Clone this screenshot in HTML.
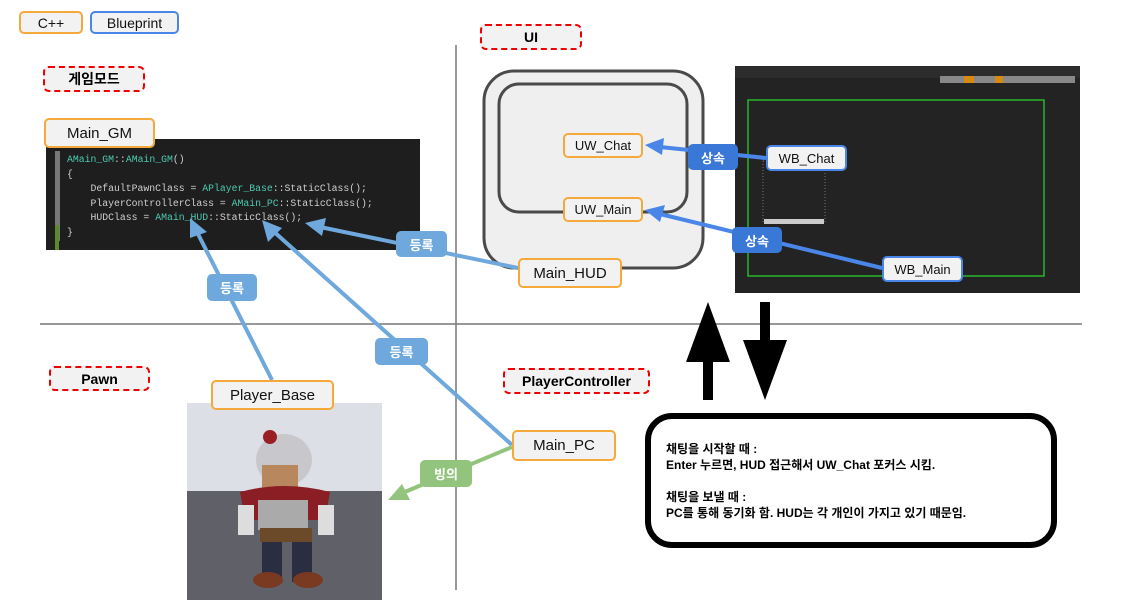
<!DOCTYPE html>
<html><head><meta charset="utf-8"><style>
html,body{margin:0;padding:0;background:#fff;}
body{width:1132px;height:613px;overflow:hidden;position:relative;font-family:"Liberation Sans","Noto Sans CJK KR",sans-serif;}
.b{position:absolute;box-sizing:border-box;display:flex;align-items:center;justify-content:center;white-space:nowrap;}
.cpp{background:#f2f2f2;border:2px solid #f6a93b;border-radius:5px;color:#111;}
.bp{background:#f2f2f2;border:2px solid #4a86e8;border-radius:5px;color:#111;}
.sec{background:#f2f2f2;border:2.5px dashed #e00;border-radius:6px;font-weight:bold;font-size:14px;color:#000;}
.lb{color:#fff;font-weight:bold;font-size:13px;border-radius:5px;}
.code{position:absolute;font-family:"Liberation Mono",monospace;font-size:9.8px;color:#cfcfcf;white-space:pre;}
.t{color:#4ec9b0}
</style></head><body>
<svg width="1132" height="613" style="position:absolute;left:0;top:0">
<line x1="456" y1="45" x2="456" y2="590" stroke="#777" stroke-width="1.5"/>
<line x1="40" y1="324" x2="1082" y2="324" stroke="#777" stroke-width="1.5"/>
<rect x="46" y="139" width="374" height="111" fill="#1e1e1e"/>
<rect x="55" y="151" width="5" height="90" fill="#777"/>
<rect x="55" y="225" width="4" height="25" fill="#5a8a2a"/>
<rect x="484" y="71" width="219" height="197" rx="30" fill="#efefef" stroke="#4a4a4a" stroke-width="3"/>
<rect x="499" y="84" width="188" height="128" rx="20" fill="#efefef" stroke="#4a4a4a" stroke-width="3"/>
<rect x="735" y="66" width="345" height="227" fill="#232323"/>
<rect x="735" y="66" width="345" height="12" fill="#2c2c2c"/>
<rect x="748" y="100" width="296" height="176" fill="none" stroke="#2bb52b" stroke-width="1.5"/>
<rect x="763" y="160" width="62" height="62" fill="none" stroke="#777" stroke-dasharray="1,2"/>
<rect x="764" y="219" width="60" height="5" fill="#ccc"/>
<rect x="940" y="76" width="135" height="7" fill="#888"/>
<rect x="964" y="76" width="10" height="7" fill="#d88a10"/>
<rect x="995" y="76" width="8" height="7" fill="#d88a10"/>
<rect x="187" y="403" width="195" height="197" fill="#5f6068"/>
<rect x="187" y="403" width="195" height="88" fill="#dcdfe6"/>
<ellipse cx="284" cy="460" rx="28" ry="26" fill="#c8c8cc"/>
<circle cx="270" cy="437" r="7" fill="#9a1f24"/>
<rect x="262" y="465" width="36" height="30" fill="#b8875e"/>
<path d="M240 492 Q284 480 330 492 L325 520 L245 520Z" fill="#8a1e24"/>
<rect x="258" y="500" width="50" height="30" fill="#aaa"/>
<rect x="238" y="505" width="16" height="30" fill="#ddd"/>
<rect x="318" y="505" width="16" height="30" fill="#ddd"/>
<rect x="260" y="528" width="52" height="14" fill="#6b4a2a"/>
<rect x="262" y="542" width="20" height="40" fill="#2a2e40"/>
<rect x="292" y="542" width="20" height="40" fill="#2a2e40"/>
<ellipse cx="268" cy="580" rx="15" ry="8" fill="#7a3a22"/>
<ellipse cx="308" cy="580" rx="15" ry="8" fill="#7a3a22"/>
<g stroke="#6fa8dc" stroke-width="4" fill="#6fa8dc">
<line x1="272" y1="380" x2="197" y2="232"/>
<polygon points="190,218 207,232 190,238" stroke="none"/>
<line x1="512" y1="445" x2="272" y2="230"/>
<polygon points="262,220 282,228 268,242" stroke="none"/>
<line x1="518" y1="268" x2="320" y2="227"/>
<polygon points="305,223 326,218 322,236" stroke="none"/>
</g>
<g stroke="#93c47d" stroke-width="4" fill="#93c47d">
<line x1="512" y1="447" x2="400" y2="494"/>
<polygon points="388,500 402,484 410,500" stroke="none"/>
</g>
<g stroke="#4a86e8" stroke-width="4" fill="#4a86e8">
<line x1="766" y1="158" x2="660" y2="147"/>
<polygon points="645,145 664,138 662,155" stroke="none"/>
<line x1="882" y1="268" x2="660" y2="214"/>
<polygon points="645,210 665,205 660,222" stroke="none"/>
</g>
<rect x="703" y="360" width="10" height="40" fill="#000"/>
<polygon points="708,302 686,362 730,362" fill="#000"/>
<rect x="760" y="302" width="10" height="42" fill="#000"/>
<polygon points="743,340 787,340 765,400" fill="#000"/>
<rect x="648" y="416" width="406" height="129" rx="24" fill="#fff" stroke="#000" stroke-width="6"/>
</svg>

<div class="b cpp" style="left:19px;top:11px;width:64px;height:23px;font-size:14px">C++</div>
<div class="b bp" style="left:90px;top:11px;width:89px;height:23px;font-size:14px">Blueprint</div>
<div class="b sec" style="left:43px;top:66px;width:102px;height:26px">게임모드</div>
<div class="b sec" style="left:480px;top:24px;width:102px;height:26px">UI</div>
<div class="b sec" style="left:49px;top:366px;width:101px;height:25px">Pawn</div>
<div class="b sec" style="left:503px;top:368px;width:147px;height:26px">PlayerController</div>

<div class="b cpp" style="left:44px;top:118px;width:111px;height:30px;font-size:15px">Main_GM</div>
<div class="code" style="left:67px;top:153px;line-height:14.5px"><span class="t">AMain_GM</span>::<span class="t">AMain_GM</span>()
{
    DefaultPawnClass = <span class="t">APlayer_Base</span>::StaticClass();
    PlayerControllerClass = <span class="t">AMain_PC</span>::StaticClass();
    HUDClass = <span class="t">AMain_HUD</span>::StaticClass();
}</div>

<div class="b cpp" style="left:563px;top:133px;width:80px;height:25px;font-size:13px">UW_Chat</div>
<div class="b cpp" style="left:563px;top:197px;width:80px;height:25px;font-size:13px">UW_Main</div>
<div class="b cpp" style="left:518px;top:258px;width:104px;height:30px;font-size:15px">Main_HUD</div>
<div class="b bp" style="left:766px;top:145px;width:81px;height:26px;font-size:13px">WB_Chat</div>
<div class="b bp" style="left:882px;top:256px;width:81px;height:26px;font-size:13px">WB_Main</div>
<div class="b cpp" style="left:211px;top:380px;width:123px;height:30px;font-size:15px">Player_Base</div>
<div class="b cpp" style="left:512px;top:430px;width:104px;height:31px;font-size:15px">Main_PC</div>

<div class="b lb" style="left:688px;top:144px;width:50px;height:26px;background:#3a78d8">상속</div>
<div class="b lb" style="left:732px;top:227px;width:50px;height:26px;background:#3a78d8">상속</div>
<div class="b lb" style="left:396px;top:231px;width:51px;height:26px;background:#6fa8dc">등록</div>
<div class="b lb" style="left:207px;top:274px;width:50px;height:27px;background:#6fa8dc">등록</div>
<div class="b lb" style="left:375px;top:338px;width:53px;height:27px;background:#6fa8dc">등록</div>
<div class="b lb" style="left:420px;top:460px;width:52px;height:27px;background:#93c47d">빙의</div>

<div style="position:absolute;left:666px;top:441px;font-size:12px;font-weight:bold;line-height:16px;color:#000;white-space:nowrap">채팅을 시작할 때 :<br>Enter 누르면, HUD 접근해서 UW_Chat 포커스 시킴.<br><br>채팅을 보낼 때 :<br>PC를 통해 동기화 함. HUD는 각 개인이 가지고 있기 때문임.</div>
</body></html>
